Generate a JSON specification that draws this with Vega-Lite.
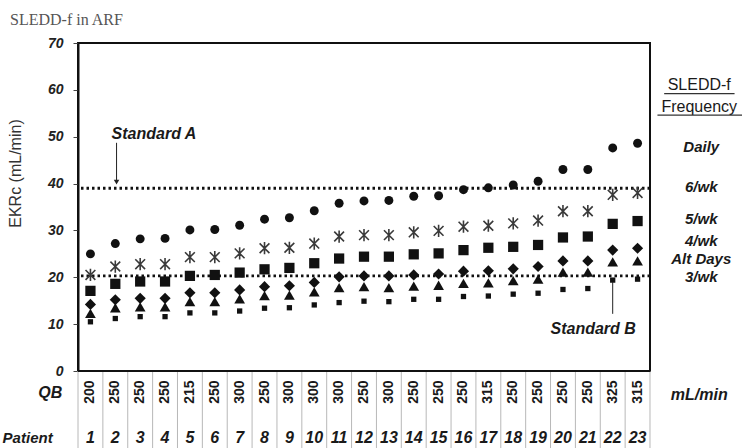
{
  "$schema": "https://vega.github.io/schema/vega-lite/v6.json",
  "width": 572,
  "height": 328,
  "autosize": {"type": "none"},
  "padding": {"left": 78, "top": 43, "right": 92, "bottom": 77},
  "background": "white",
  "title": {"text": "SLEDD-f in ARF", "anchor": "start", "frame": "group", "font": "Liberation Serif", "fontSize": 16, "fontWeight": "normal", "color": "#555", "dx": -68, "offset": 8},
  "config": {
    "view": {"stroke": "#111", "strokeWidth": 2},
    "axisX": {"disable": true},
    "axisY": {
      "values": [0, 10, 20, 30, 40, 50, 60, 70],
      "grid": false,
      "labelFont": "Liberation Sans", "labelFontSize": 14, "labelFontWeight": "bold", "labelFontStyle": "italic", "labelColor": "#222", "labelPadding": 10,
      "tickSize": 5, "tickColor": "#444", "domainColor": "#111", "domainWidth": 2,
      "titleFont": "Liberation Sans", "titleFontSize": 16, "titleFontWeight": "normal", "titleColor": "#333", "titleX": -55, "titleY": 130
    },
    "text": {"font": "Liberation Sans", "color": "#1a1a1a"}
  },
  "datasets": {
    "pts": [
      {"patient": 1, "qb": 200, "daily": 25.0, "wk6": 20.5, "wk5": 17.1, "wk4": 14.2, "alt": 12.3, "wk3": 10.5},
      {"patient": 2, "qb": 250, "daily": 27.2, "wk6": 22.3, "wk5": 18.6, "wk4": 15.2, "alt": 13.5, "wk3": 11.2},
      {"patient": 3, "qb": 250, "daily": 28.2, "wk6": 22.8, "wk5": 19.1, "wk4": 15.5, "alt": 13.7, "wk3": 11.6},
      {"patient": 4, "qb": 250, "daily": 28.3, "wk6": 22.8, "wk5": 19.1, "wk4": 15.5, "alt": 13.7, "wk3": 11.6},
      {"patient": 5, "qb": 215, "daily": 30.1, "wk6": 24.3, "wk5": 20.3, "wk4": 16.7, "alt": 14.8, "wk3": 12.4},
      {"patient": 6, "qb": 250, "daily": 30.2, "wk6": 24.3, "wk5": 20.5, "wk4": 16.7, "alt": 14.8, "wk3": 12.4},
      {"patient": 7, "qb": 300, "daily": 31.1, "wk6": 25.1, "wk5": 21.0, "wk4": 17.3, "alt": 15.4, "wk3": 12.8},
      {"patient": 8, "qb": 250, "daily": 32.4, "wk6": 26.2, "wk5": 21.7, "wk4": 18.0, "alt": 16.1, "wk3": 13.4},
      {"patient": 9, "qb": 300, "daily": 32.7, "wk6": 26.3, "wk5": 22.0, "wk4": 18.2, "alt": 16.2, "wk3": 13.5},
      {"patient": 10, "qb": 300, "daily": 34.2, "wk6": 27.2, "wk5": 23.0, "wk4": 18.9, "alt": 16.9, "wk3": 14.1},
      {"patient": 11, "qb": 300, "daily": 35.8, "wk6": 28.7, "wk5": 24.0, "wk4": 20.1, "alt": 17.8, "wk3": 14.6},
      {"patient": 12, "qb": 250, "daily": 36.3, "wk6": 29.0, "wk5": 24.4, "wk4": 20.3, "alt": 18.0, "wk3": 14.9},
      {"patient": 13, "qb": 300, "daily": 36.4, "wk6": 29.0, "wk5": 24.4, "wk4": 20.3, "alt": 17.8, "wk3": 14.8},
      {"patient": 14, "qb": 250, "daily": 37.3, "wk6": 29.6, "wk5": 24.9, "wk4": 20.5, "alt": 18.1, "wk3": 15.3},
      {"patient": 15, "qb": 250, "daily": 37.4, "wk6": 29.9, "wk5": 25.1, "wk4": 20.7, "alt": 18.3, "wk3": 15.3},
      {"patient": 16, "qb": 250, "daily": 38.7, "wk6": 30.8, "wk5": 25.8, "wk4": 21.3, "alt": 18.7, "wk3": 15.9},
      {"patient": 17, "qb": 315, "daily": 39.1, "wk6": 31.0, "wk5": 26.3, "wk4": 21.4, "alt": 18.8, "wk3": 16.0},
      {"patient": 18, "qb": 250, "daily": 39.7, "wk6": 31.5, "wk5": 26.5, "wk4": 21.8, "alt": 19.3, "wk3": 16.4},
      {"patient": 19, "qb": 250, "daily": 40.5, "wk6": 32.1, "wk5": 26.9, "wk4": 22.3, "alt": 19.6, "wk3": 16.6},
      {"patient": 20, "qb": 250, "daily": 43.0, "wk6": 34.1, "wk5": 28.5, "wk4": 23.5, "alt": 21.1, "wk3": 17.4},
      {"patient": 21, "qb": 250, "daily": 43.0, "wk6": 34.1, "wk5": 28.7, "wk4": 23.5, "alt": 21.1, "wk3": 17.6},
      {"patient": 22, "qb": 325, "daily": 47.6, "wk6": 37.6, "wk5": 31.4, "wk4": 25.8, "alt": 23.3, "wk3": 19.4},
      {"patient": 23, "qb": 315, "daily": 48.6, "wk6": 38.0, "wk5": 32.0, "wk4": 26.2, "alt": 23.5, "wk3": 19.6}
    ],
    "refs": [
      {"standard": "A", "ekrc": 39.0},
      {"standard": "B", "ekrc": 20.3}
    ],
    "freqlab": [
      {"label": "Daily", "ekrc": 47.8},
      {"label": "6/wk", "ekrc": 39.3},
      {"label": "5/wk", "ekrc": 32.4},
      {"label": "4/wk", "ekrc": 27.7},
      {"label": "Alt Days", "ekrc": 23.9},
      {"label": "3/wk", "ekrc": 20.1}
    ],
    "one": [{}]
  },
  "layer": [
    {
      "data": {"name": "pts"},
      "mark": {"type": "rule", "color": "#b8b8b8", "strokeWidth": 1, "xOffset": -12.43},
      "encoding": {
        "x": {"field": "patient", "type": "quantitative", "scale": {"domain": [0.5, 23.5], "nice": false, "zero": false}, "axis": null},
        "y": {"datum": 0, "type": "quantitative", "scale": {"domain": [0, 70], "nice": false}, "title": "EKRc (mL/min)"},
        "y2": {"datum": -16.6}
      }
    },
    {
      "data": {"name": "pts"},
      "transform": [{"filter": "datum.patient == 23"}],
      "mark": {"type": "rule", "color": "#b8b8b8", "strokeWidth": 1, "xOffset": 12.43},
      "encoding": {
        "x": {"field": "patient", "type": "quantitative", "axis": null},
        "y": {"datum": 0, "type": "quantitative", "title": "EKRc (mL/min)"},
        "y2": {"datum": -16.6}
      }
    },
    {
      "data": {"name": "refs"},
      "mark": {"type": "rule", "color": "#111", "strokeWidth": 2.8, "strokeDash": [2.5, 3], "strokeCap": "butt"},
      "encoding": {
        "y": {"field": "ekrc", "type": "quantitative", "title": "EKRc (mL/min)"}
      }
    },
    {
      "data": {"name": "one"},
      "mark": {"type": "rule", "color": "#111", "strokeWidth": 2},
      "encoding": {
        "x": {"datum": 23.5, "type": "quantitative", "axis": null},
        "y": {"datum": 0, "type": "quantitative", "title": "EKRc (mL/min)"},
        "y2": {"datum": 70}
      }
    },
    {
      "data": {"name": "one"},
      "mark": {"type": "rule", "color": "#111", "strokeWidth": 2},
      "encoding": {
        "x": {"datum": 0.5, "type": "quantitative", "axis": null},
        "x2": {"datum": 23.5},
        "y": {"datum": 0, "type": "quantitative", "title": "EKRc (mL/min)"}
      }
    },
    {
      "data": {"name": "one"},
      "mark": {"type": "rule", "color": "#111", "strokeWidth": 1.5},
      "encoding": {
        "x": {"datum": 0.5, "type": "quantitative", "axis": null},
        "x2": {"datum": 23.5},
        "y": {"datum": 70, "type": "quantitative", "title": "EKRc (mL/min)"}
      }
    },
    {
      "data": {"name": "pts"},
      "transform": [{"fold": ["daily", "wk5", "wk4", "alt", "wk3"], "as": ["freq", "ekrc"]}],
      "mark": {"type": "point", "filled": true, "opacity": 1, "color": "#111"},
      "encoding": {
        "x": {"field": "patient", "type": "quantitative", "axis": null},
        "y": {"field": "ekrc", "type": "quantitative", "title": "EKRc (mL/min)"},
        "shape": {"field": "freq", "type": "nominal", "scale": {"domain": ["daily", "wk5", "wk4", "alt", "wk3"], "range": ["circle", "square", "diamond", "triangle-up", "square"]}, "legend": null},
        "size": {"field": "freq", "type": "nominal", "scale": {"type": "ordinal", "domain": ["daily", "wk5", "wk4", "alt", "wk3"], "range": [80, 105, 125, 115, 28]}, "legend": null}
      }
    },
    {
      "data": {"name": "pts"},
      "mark": {"type": "point", "filled": false, "opacity": 1, "stroke": "#3a3a3a", "strokeWidth": 1.6, "size": 150, "shape": "M0,-1L0,1M-0.8,-0.8L0.8,0.8M-0.8,0.8L0.8,-0.8"},
      "encoding": {
        "x": {"field": "patient", "type": "quantitative", "axis": null},
        "y": {"field": "wk6", "type": "quantitative", "title": "EKRc (mL/min)"}
      }
    },
    {
      "data": {"name": "one"},
      "mark": {"type": "rule", "color": "#222", "strokeWidth": 1},
      "encoding": {
        "x": {"datum": 2.05, "type": "quantitative", "axis": null},
        "y": {"datum": 48.7, "type": "quantitative", "title": "EKRc (mL/min)"},
        "y2": {"datum": 40.2}
      }
    },
    {
      "data": {"name": "one"},
      "mark": {"type": "point", "filled": true, "opacity": 1, "color": "#222", "shape": "triangle-down", "size": 30},
      "encoding": {
        "x": {"datum": 2.05, "type": "quantitative", "axis": null},
        "y": {"datum": 40.3, "type": "quantitative", "title": "EKRc (mL/min)"}
      }
    },
    {
      "data": {"name": "one"},
      "mark": {"type": "rule", "color": "#222", "strokeWidth": 1},
      "encoding": {
        "x": {"datum": 22, "type": "quantitative", "axis": null},
        "y": {"datum": 12.2, "type": "quantitative", "title": "EKRc (mL/min)"},
        "y2": {"datum": 19.0}
      }
    },
    {
      "data": {"name": "one"},
      "mark": {"type": "text", "text": "Standard A", "align": "left", "baseline": "middle", "fontSize": 16, "fontWeight": "bold", "fontStyle": "italic"},
      "encoding": {
        "x": {"datum": 1.85, "type": "quantitative", "axis": null},
        "y": {"datum": 50.6, "type": "quantitative", "title": "EKRc (mL/min)"}
      }
    },
    {
      "data": {"name": "one"},
      "mark": {"type": "text", "text": "Standard B", "align": "left", "baseline": "middle", "fontSize": 16, "fontWeight": "bold", "fontStyle": "italic"},
      "encoding": {
        "x": {"datum": 19.5, "type": "quantitative", "axis": null},
        "y": {"datum": 9.0, "type": "quantitative", "title": "EKRc (mL/min)"}
      }
    },
    {
      "data": {"name": "freqlab"},
      "mark": {"type": "text", "align": "center", "baseline": "middle", "fontSize": 15, "fontWeight": "bold", "fontStyle": "italic"},
      "encoding": {
        "x": {"datum": 25.56, "type": "quantitative", "axis": null},
        "y": {"field": "ekrc", "type": "quantitative", "title": "EKRc (mL/min)"},
        "text": {"field": "label"}
      }
    },
    {
      "data": {"name": "one"},
      "mark": {"type": "text", "text": "SLEDD-f", "align": "center", "baseline": "middle", "fontSize": 16},
      "encoding": {
        "x": {"datum": 25.48, "type": "quantitative", "axis": null},
        "y": {"datum": 61.0, "type": "quantitative", "title": "EKRc (mL/min)"}
      }
    },
    {
      "data": {"name": "one"},
      "mark": {"type": "text", "text": "Frequency", "align": "center", "baseline": "middle", "fontSize": 16},
      "encoding": {
        "x": {"datum": 25.48, "type": "quantitative", "axis": null},
        "y": {"datum": 56.4, "type": "quantitative", "title": "EKRc (mL/min)"}
      }
    },
    {
      "data": {"name": "one"},
      "mark": {"type": "rule", "color": "#333", "strokeWidth": 1.2},
      "encoding": {
        "x": {"datum": 24.07, "type": "quantitative", "axis": null},
        "x2": {"datum": 26.9},
        "y": {"datum": 59.2, "type": "quantitative", "title": "EKRc (mL/min)"}
      }
    },
    {
      "data": {"name": "one"},
      "mark": {"type": "rule", "color": "#333", "strokeWidth": 1.2},
      "encoding": {
        "x": {"datum": 23.8, "type": "quantitative", "axis": null},
        "x2": {"datum": 27.2},
        "y": {"datum": 54.6, "type": "quantitative", "title": "EKRc (mL/min)"}
      }
    },
    {
      "data": {"name": "pts"},
      "mark": {"type": "text", "angle": 270, "align": "center", "baseline": "middle", "fontSize": 14, "fontWeight": "bold"},
      "encoding": {
        "x": {"field": "patient", "type": "quantitative", "axis": null},
        "y": {"datum": -4.5, "type": "quantitative", "title": "EKRc (mL/min)"},
        "text": {"field": "qb"}
      }
    },
    {
      "data": {"name": "pts"},
      "mark": {"type": "text", "align": "center", "baseline": "middle", "fontSize": 16, "fontWeight": "bold", "fontStyle": "italic"},
      "encoding": {
        "x": {"field": "patient", "type": "quantitative", "axis": null},
        "y": {"datum": -14.4, "type": "quantitative", "title": "EKRc (mL/min)"},
        "text": {"field": "patient"}
      }
    },
    {
      "data": {"name": "one"},
      "mark": {"type": "text", "text": "QB", "align": "right", "baseline": "middle", "fontSize": 16, "fontWeight": "bold", "fontStyle": "italic"},
      "encoding": {
        "x": {"datum": -0.13, "type": "quantitative", "axis": null},
        "y": {"datum": -4.6, "type": "quantitative", "title": "EKRc (mL/min)"}
      }
    },
    {
      "data": {"name": "one"},
      "mark": {"type": "text", "text": "Patient", "align": "right", "baseline": "middle", "fontSize": 15, "fontWeight": "bold", "fontStyle": "italic"},
      "encoding": {
        "x": {"datum": -0.52, "type": "quantitative", "axis": null},
        "y": {"datum": -14.4, "type": "quantitative", "title": "EKRc (mL/min)"}
      }
    },
    {
      "data": {"name": "one"},
      "mark": {"type": "text", "text": "mL/min", "align": "center", "baseline": "middle", "fontSize": 16, "fontWeight": "bold", "fontStyle": "italic"},
      "encoding": {
        "x": {"datum": 25.48, "type": "quantitative", "axis": null},
        "y": {"datum": -5.1, "type": "quantitative", "title": "EKRc (mL/min)"}
      }
    }
  ]
}
